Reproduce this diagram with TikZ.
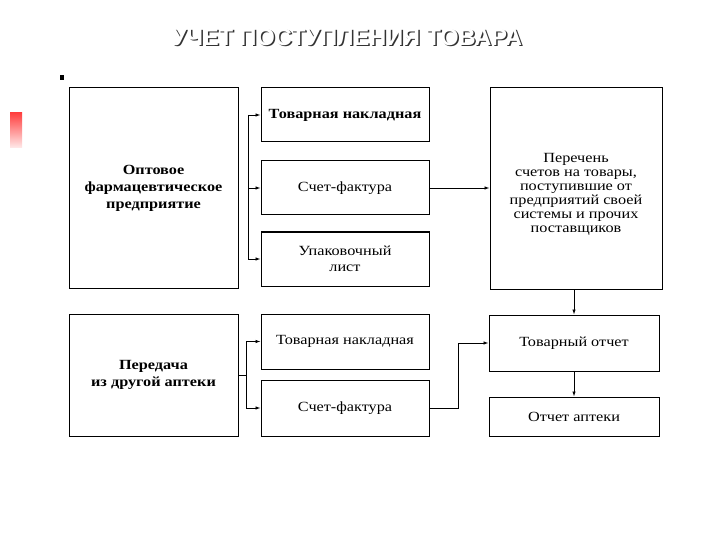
\documentclass[tikz,border=0pt]{standalone}
\usepackage{fontspec}
\setmainfont{Liberation Serif}
\newfontfamily\boxfont[FakeStretch=1.16]{Liberation Serif}
\newfontfamily\titlefont{Liberation Sans}
\usetikzlibrary{arrows.meta}

\tikzset{
  docbox/.style={draw, line width=1pt, align=center, inner sep=2pt,
    font=\boxfont\fontsize{14}{14}\selectfont},
  bigbox/.style={docbox, font=\boxfont\bfseries\fontsize{14}{17}\selectfont},
  link/.style={line width=0.8pt, -{Latex[length=5pt,width=3.5pt]}},
  bar/.style={line width=0.8pt},
}

\begin{document}
\begin{tikzpicture}[x=1pt,y=-1pt]
      \useasboundingbox (0,0) rectangle (720,540);
      % title with shadow
      \node[font=\titlefont\bfseries\fontsize{23.5}{28}\selectfont,text=black!80]
        (titleshadow) at (348.5,38.5) {УЧЕТ ПОСТУПЛЕНИЯ ТОВАРА};
      \node[font=\titlefont\bfseries\fontsize{23.5}{28}\selectfont,text=white]
        (title) at (347,37) {УЧЕТ ПОСТУПЛЕНИЯ ТОВАРА};
      \shade[top color=red!75,bottom color=red!8] (10,113) rectangle (22,148);
      \fill (60,75) rectangle (64,80);

      % left column
      \node[bigbox,minimum width=169,minimum height=200] (opt) at (153.5,188)
        {Оптовое\\фармацевтическое\\предприятие};
      \node[bigbox,minimum width=169,minimum height=122] (apt) at (153.5,375)
        {Передача\\из другой аптеки};

      % documents
      \node[docbox,font=\boxfont\bfseries\fontsize{14}{14}\selectfont,
        minimum width=168,minimum height=54] (tn1) at (345,115) {Товарная накладная};
      \node[docbox,minimum width=168,minimum height=54] (sf1) at (345,188) {Счет-фактура};
      \node[docbox,minimum width=168,minimum height=54] (up) at (345,259)
        {Упаковочный\\[2pt]лист};
      \node[docbox,minimum width=168,minimum height=55] (tn2) at (345,341.5) {Товарная накладная};
      \node[docbox,minimum width=168,minimum height=56] (sf2) at (345,408) {Счет-фактура};

      % right column
      \node[docbox,minimum width=172,minimum height=201] (list) at (576,188.5) {};
      \node[align=center,font=\boxfont\fontsize{14}{14}\selectfont] (listtext) at (576,194)
        {Перечень\\счетов на товары,\\поступившие от\\предприятий своей\\системы и прочих\\поставщиков};
      \node[docbox,minimum width=170,minimum height=56] (rep) at (574,343) {Товарный отчет};
      \node[docbox,minimum width=170,minimum height=39] (aptrep) at (574,416.5) {Отчет аптеки};

      % connectors
      \coordinate (fork1) at (248,0);
      \coordinate (fork2) at (246,0);
      \coordinate (turn) at (458,0);
      \draw[bar] (fork1 |- tn1.west) -- (fork1 |- up.west);
      \foreach \doc in {tn1,sf1,up}
        \draw[link] (fork1 |- \doc.west) -- (\doc.west);
      \draw[bar] (apt.east) -- (fork2 |- apt.east);
      \draw[bar] (fork2 |- tn2.west) -- (fork2 |- sf2.west);
      \foreach \doc in {tn2,sf2}
        \draw[link] (fork2 |- \doc.west) -- (\doc.west);
      \draw[link] (sf1.east) -- (sf1.east -| list.west);
      \draw[link] (sf2.east) -- (turn |- sf2.east) |- (rep.west);
      \draw[link] (rep.north |- list.south) -- (rep.north);
      \draw[link] (rep.south) -- (aptrep.north);
    \end{tikzpicture}
\end{document}
